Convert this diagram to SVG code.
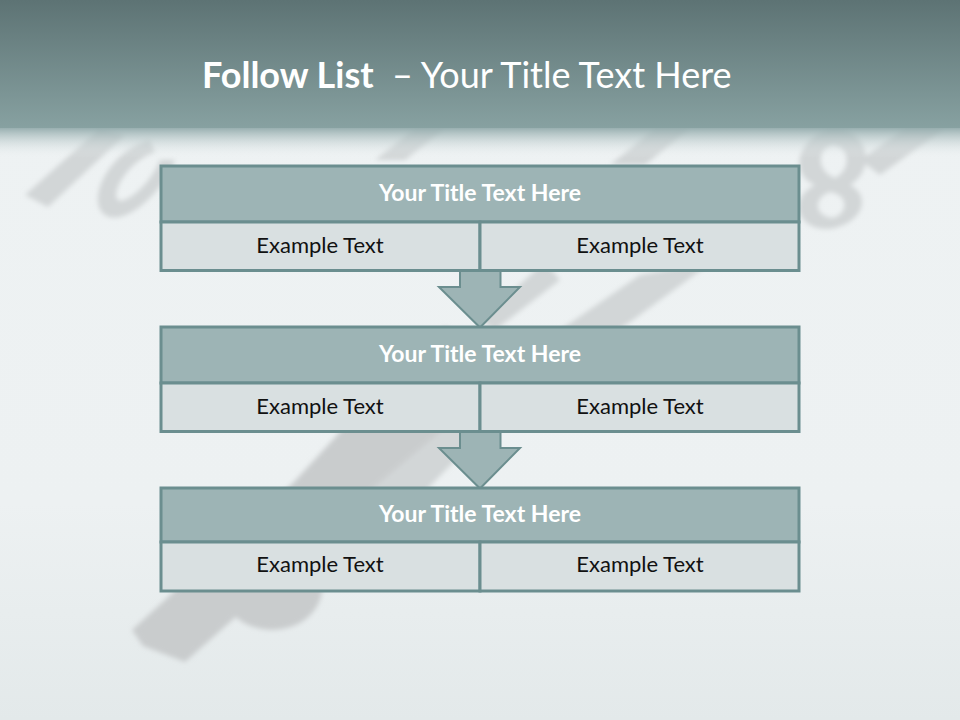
<svg xmlns="http://www.w3.org/2000/svg" width="960" height="720" viewBox="0 0 960 720">
  <defs>
    <linearGradient id="bg" x1="0" y1="0" x2="0" y2="1">
      <stop offset="0" stop-color="#e3e9ea"/>
      <stop offset="0.12" stop-color="#eef2f3"/>
      <stop offset="0.7" stop-color="#edf1f2"/>
      <stop offset="1" stop-color="#e3e9ea"/>
    </linearGradient>
    <linearGradient id="hdr" x1="0" y1="0" x2="0" y2="1">
      <stop offset="0" stop-color="#5d7374"/>
      <stop offset="1" stop-color="#87a1a1"/>
    </linearGradient>
    <linearGradient id="fade" x1="0" y1="0" x2="0" y2="1">
      <stop offset="0" stop-color="#8fa8a9" stop-opacity="0.9"/>
      <stop offset="1" stop-color="#eef2f3" stop-opacity="0"/>
    </linearGradient>
    <filter id="soft" x="-10%" y="-10%" width="120%" height="120%">
      <feGaussianBlur stdDeviation="2.5"/>
    </filter>
    <style>
      .ttl { fill: #9db4b5; stroke: #6b8e8f; stroke-width: 3; }
      .cell { fill: #d9e0e1; stroke: #6b8e8f; stroke-width: 3; }
      .arrow { fill: #9db4b5; stroke: #6b8e8f; stroke-width: 2; stroke-linejoin: miter; }
      .ht { font-family: Lato, "Open Sans", sans-serif; font-size: 23px; font-weight: bold; fill: #ffffff; text-anchor: middle; }
      .et { font-family: Lato, "Open Sans", sans-serif; font-size: 22px; fill: #111111; text-anchor: middle; }
      .shade { fill: #c9cccd; }
      .shade2 { fill: #d2d6d7; }
    </style>
  </defs>

  <!-- background -->
  <rect x="0" y="0" width="960" height="720" fill="url(#bg)"/>
  <g id="background-shapes" filter="url(#soft)">
    <polygon class="shade" points="132,630 143,646 185,662 300,560 335,520 455,420 447,326 420,345 293,483"/>
    <polygon class="shade2" points="335,520 455,420 560,330 640,275 712,262 633,320 520,395 433,483 400,520"/>
    <ellipse class="shade" cx="272" cy="588" rx="50" ry="42"/>
    <polygon class="shade2" points="495,330 560,280 545,262 480,320"/>
    <polygon class="shade2" points="25,195 48,207 125,135 100,128"/>
    <path class="shade2" d="M150,140 C110,150 85,200 105,215 C125,228 165,190 175,160 L160,160 C150,185 125,205 118,200 C110,192 130,160 155,152 Z"/>
    <polygon class="shade2" points="375,160 405,160 445,128 415,128"/>
    <polygon class="shade2" points="610,165 645,165 690,128 655,128"/>
    <path class="shade2" d="M830,128 C795,140 790,175 815,185 C785,200 800,235 835,228 C865,220 870,195 850,185 C875,170 870,135 840,128 Z M832,145 C850,145 852,170 835,178 C815,170 818,148 832,145 Z M830,192 C850,195 848,215 832,218 C812,215 815,196 830,192 Z"/>
    <polygon class="shade2" points="860,160 905,128 945,128 880,175"/>
  </g>

  <!-- header band -->
  <rect x="0" y="0" width="960" height="128" fill="url(#hdr)"/>
  <rect x="0" y="128" width="960" height="30" fill="url(#fade)"/>
  <g id="title">
    <text x="202" y="88" font-family="Lato, 'Open Sans', sans-serif" font-size="36" fill="#ffffff"><tspan font-weight="bold">Follow List</tspan><tspan xml:space="preserve">  – Your Title Text Here</tspan></text>
  </g>

  <!-- connectors -->
  <g id="connectors">
    <polygon class="arrow" points="460,271 500.5,271 500.5,287 520,287 480,327.5 439,287 460,287"/>
    <polygon class="arrow" points="460,432 500.5,432 500.5,448 520,448 480,488.5 439,448 460,448"/>
  </g>

  <g id="node1">
    <rect class="ttl" x="161" y="166" width="638" height="56"/>
    <rect class="cell" x="161" y="222" width="319" height="48.5"/>
    <rect class="cell" x="480" y="222" width="319" height="48.5"/>
    <text class="ht" x="480" y="201">Your Title Text Here</text>
    <text class="et" x="320" y="253">Example Text</text>
    <text class="et" x="640" y="253">Example Text</text>
  </g>

  <g id="node2">
    <rect class="ttl" x="161" y="327" width="638" height="56"/>
    <rect class="cell" x="161" y="383" width="319" height="48.5"/>
    <rect class="cell" x="480" y="383" width="319" height="48.5"/>
    <text class="ht" x="480" y="362">Your Title Text Here</text>
    <text class="et" x="320" y="414">Example Text</text>
    <text class="et" x="640" y="414">Example Text</text>
  </g>

  <g id="node3">
    <rect class="ttl" x="161" y="488" width="638" height="54"/>
    <rect class="cell" x="161" y="542" width="319" height="49"/>
    <rect class="cell" x="480" y="542" width="319" height="49"/>
    <text class="ht" x="480" y="522">Your Title Text Here</text>
    <text class="et" x="320" y="572">Example Text</text>
    <text class="et" x="640" y="572">Example Text</text>
  </g>
</svg>
